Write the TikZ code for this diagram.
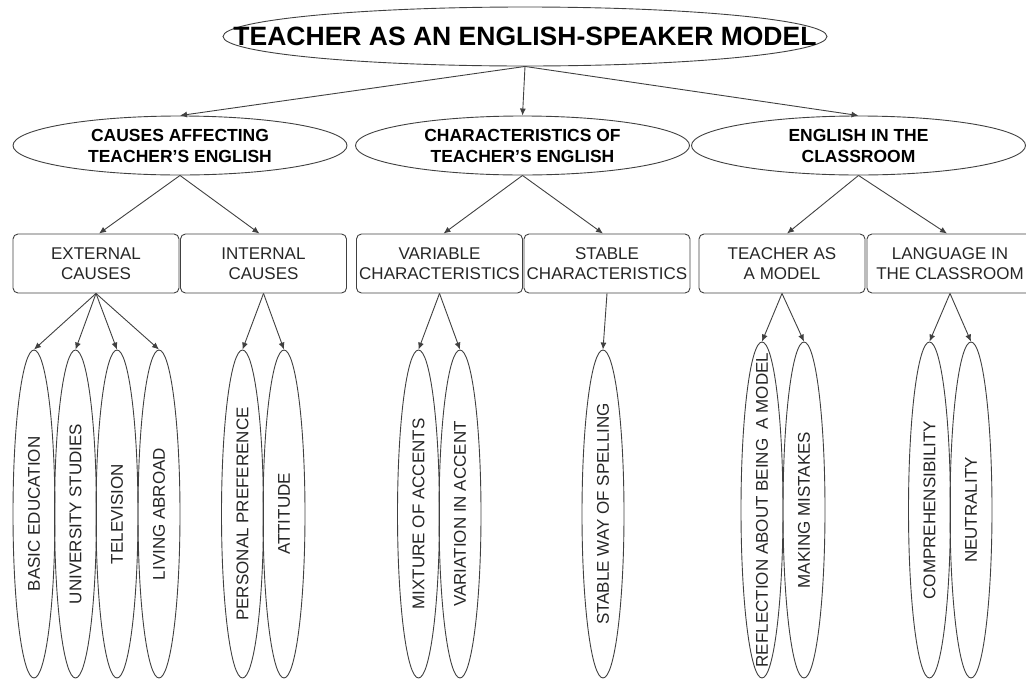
\documentclass[tikz,border=0pt]{standalone}
\usepackage{fontspec}
\setmainfont{Liberation Sans}
\usetikzlibrary{arrows.meta,shapes.geometric}
\begin{document}
\begin{tikzpicture}[x=1pt,y=-1pt,
  line/.style={draw=black!75, line width=0.9pt},
  conn/.style={line, -{Latex[length=7pt,width=6pt]}},
  titlenode/.style={ellipse, line, inner sep=0pt, minimum width=604pt, minimum height=59pt, font=\fontsize{26.5}{30}\selectfont\bfseries},
  catnode/.style={ellipse, line, inner sep=0pt, minimum width=334pt, minimum height=59pt, align=center, font=\fontsize{17.5}{21}\selectfont\bfseries},
  boxnode/.style={rectangle, rounded corners=5pt, line, inner sep=0pt, minimum width=166pt, minimum height=59pt, align=center, font=\fontsize{17}{20}\selectfont, text=black!85},
  leaf/.style={ellipse, line, inner sep=0pt, rotate=90, minimum width=328pt, minimum height=42pt, font=\fontsize{17}{20}\selectfont, text=black!85},
  leafr/.style={leaf, minimum width=336pt},
]
\useasboundingbox (0,0) rectangle (1026,678);

\node[titlenode] (top) at (525,36.5) {\makebox[0pt]{TEACHER AS AN ENGLISH-SPEAKER MODEL}};

\node[catnode] (c1) at (180,145.5) {CAUSES AFFECTING\\TEACHER’S ENGLISH};
\node[catnode] (c2) at (522.5,145.5) {CHARACTERISTICS OF\\TEACHER’S ENGLISH};
\node[catnode] (c3) at (858.5,145.5) {ENGLISH IN THE\\CLASSROOM};

\node[boxnode] (ext) at (96,263.5) {EXTERNAL\\CAUSES};
\node[boxnode] (int) at (263.5,263.5) {INTERNAL\\CAUSES};
\node[boxnode] (var) at (439.5,263.5) {VARIABLE\\CHARACTERISTICS};
\node[boxnode] (sta) at (607,263.5) {STABLE\\CHARACTERISTICS};
\node[boxnode] (tam) at (782,263.5) {TEACHER AS\\A MODEL};
\node[boxnode] (lic) at (950,263.5) {LANGUAGE IN\\THE CLASSROOM};

\node[leaf] (l1) at (34,514) {\makebox[0pt]{BASIC EDUCATION}};
\node[leaf] (l2) at (75.5,514) {\makebox[0pt]{UNIVERSITY STUDIES}};
\node[leaf] (l3) at (117,514) {\makebox[0pt]{TELEVISION}};
\node[leaf] (l4) at (159,514) {\makebox[0pt]{LIVING ABROAD}};
\node[leaf] (l5) at (242.5,514) {\makebox[0pt]{PERSONAL PREFERENCE}};
\node[leaf] (l6) at (284,514) {\makebox[0pt]{ATTITUDE}};
\node[leaf] (l7) at (418.5,514) {\makebox[0pt]{MIXTURE OF ACCENTS}};
\node[leaf] (l8) at (460,514) {\makebox[0pt]{VARIATION IN ACCENT}};
\node[leaf] (l9) at (603,514) {\makebox[0pt]{STABLE WAY OF SPELLING}};
\node[leafr] (l10) at (762,510) {\makebox[0pt]{REFLECTION ABOUT BEING\ \ A MODEL}};
\node[leafr] (l11) at (804,510) {\makebox[0pt]{MAKING MISTAKES}};
\node[leafr] (l12) at (929.5,510) {\makebox[0pt]{COMPREHENSIBILITY}};
\node[leafr] (l13) at (971,510) {\makebox[0pt]{NEUTRALITY}};

\draw[conn] (top.south) -- (c1.north);
\draw[conn] (top.south) -- (c2.north);
\draw[conn] (top.south) -- (c3.north);

\draw[conn] (c1.south) -- ([xshift=3pt]ext.north);
\draw[conn] (c1.south) -- ([xshift=-4pt]int.north);
\draw[conn] (c2.south) -- ([xshift=4pt]var.north);
\draw[conn] (c2.south) -- ([xshift=-4pt]sta.north);
\draw[conn] (c3.south) -- ([xshift=5pt]tam.north);
\draw[conn] (c3.south) -- ([xshift=-3pt]lic.north);

\draw[conn] (ext.south) -- (l1.east);
\draw[conn] (ext.south) -- (l2.east);
\draw[conn] (ext.south) -- (l3.east);
\draw[conn] (ext.south) -- (l4.east);
\draw[conn] (int.south) -- (l5.east);
\draw[conn] (int.south) -- (l6.east);
\draw[conn] (var.south) -- (l7.east);
\draw[conn] (var.south) -- (l8.east);
\draw[conn] (sta.south) -- (l9.east);
\draw[conn] (tam.south) -- (l10.east);
\draw[conn] (tam.south) -- (l11.east);
\draw[conn] (lic.south) -- (l12.east);
\draw[conn] (lic.south) -- (l13.east);
\end{tikzpicture}
\end{document}
